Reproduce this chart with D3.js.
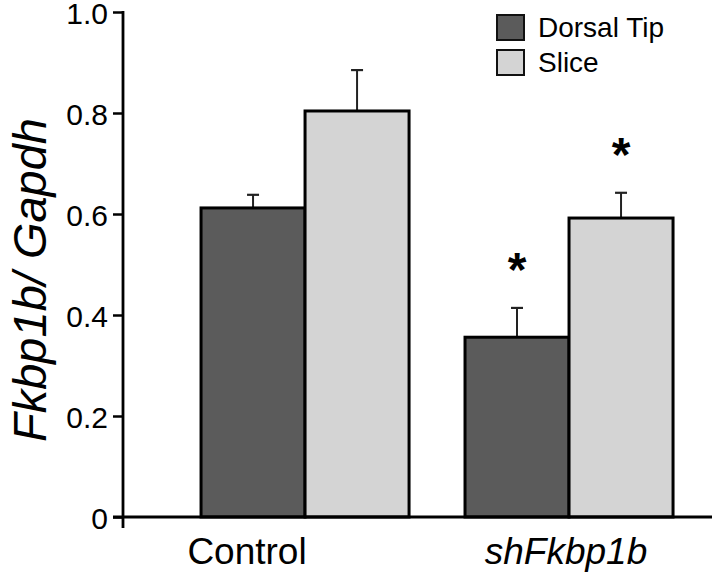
<!DOCTYPE html>
<html><head><meta charset="utf-8">
<script src="https://cdn.jsdelivr.net/npm/d3@7/dist/d3.min.js"></script>
<style>body{margin:0;background:#fff}svg{display:block;font-family:"Liberation Sans",Arial,sans-serif}</style>
</head><body>
<svg id="c" width="720" height="572"></svg>
<script>
const categories = ["Control", "shFkbp1b"];
const series = ["Dorsal Tip", "Slice"];
const dorsalTip = [0.612, 0.356];
const dorsalTipErr = [0.026, 0.058];
const slice = [0.804, 0.592];
const sliceErr = [0.081, 0.050];
const significant = [[false, false], [true, true]];
const yTicks = [0, 0.2, 0.4, 0.6, 0.8, 1.0];

const colors = {"Dorsal Tip": "#5b5b5b", "Slice": "#d4d4d4"};
const svg = d3.select("#c");
const y = d3.scaleLinear().domain([0, 1]).range([517, 12]);
const x0 = d3.scaleBand().domain(categories).range([123, 712])
  .paddingInner(0.212).paddingOuter(0.2216).align(0.667);
const x1 = d3.scaleBand().domain(series).range([0, x0.bandwidth()]).padding(0);

const rows = categories.map((c, i) => ({
  cat: c, i,
  vals: [
    {s: "Dorsal Tip", v: dorsalTip[i], e: dorsalTipErr[i], sig: significant[i][0]},
    {s: "Slice", v: slice[i], e: sliceErr[i], sig: significant[i][1]}
  ]
}));

const g = svg.selectAll("g.grp").data(rows).join("g")
  .attr("transform", d => `translate(${x0(d.cat)},0)`);
g.selectAll("g.eb").data(d => d.vals).join("g").each(function(d) {
  const cx = x1(d.s) + x1.bandwidth() / 2;
  const s = d3.select(this);
  s.append("line").attr("x1", cx).attr("x2", cx).attr("y1", y(d.v)).attr("y2", y(d.v + d.e))
    .attr("stroke", "#222").attr("stroke-width", 2);
  s.append("line").attr("x1", cx - 6).attr("x2", cx + 6).attr("y1", y(d.v + d.e)).attr("y2", y(d.v + d.e))
    .attr("stroke", "#222").attr("stroke-width", 2.2);
  if (d.sig) {
    s.append("text").attr("x", cx).attr("y", y(d.v + d.e) - 22)
      .attr("text-anchor", "middle").attr("font-size", 48).attr("font-weight", "bold")
      .attr("fill", "#000").text("*");
  }
});
g.selectAll("rect").data(d => d.vals).join("rect")
  .attr("x", d => x1(d.s)).attr("width", x1.bandwidth())
  .attr("y", d => y(d.v)).attr("height", d => y(0) - y(d.v))
  .attr("fill", d => colors[d.s]).attr("stroke", "#000").attr("stroke-width", 3);

const yAxis = d3.axisLeft(y).tickValues(yTicks).tickSize(10).tickSizeOuter(0).tickPadding(5)
  .tickFormat(d => d === 0 ? "0" : d3.format(".1f")(d));
const ya = svg.append("g").attr("transform", "translate(123,0)").call(yAxis);
ya.select(".domain").remove();
ya.selectAll(".tick line").attr("stroke", "#000").attr("stroke-width", 2.5);
ya.selectAll(".tick text").attr("font-size", 30).attr("fill", "#000").attr("dy", "0.38em")
  .attr("font-family", "Liberation Sans, Arial, sans-serif");
svg.append("line").attr("x1", 123).attr("x2", 123).attr("y1", y(1) - 1).attr("y2", 528)
  .attr("stroke", "#000").attr("stroke-width", 2.8);
svg.append("line").attr("x1", 113).attr("x2", 712).attr("y1", y(0)).attr("y2", y(0))
  .attr("stroke", "#000").attr("stroke-width", 2.8);

const labelDx = [-58, -3];
svg.selectAll("text.cat").data(categories).join("text").attr("class", "cat")
  .attr("x", (d, i) => x0(d) + x0.bandwidth() / 2 + labelDx[i]).attr("y", 564)
  .attr("text-anchor", "middle").attr("font-size", 37)
  .attr("font-style", (d, i) => i === 1 ? "italic" : "normal").text(d => d);

svg.append("text").attr("transform", "translate(46,280) rotate(-90)")
  .attr("text-anchor", "middle").attr("font-size", 47).attr("font-style", "italic")
  .text("Fkbp1b/ Gapdh");

const lg = svg.selectAll("g.lg").data(series).join("g").attr("class", "lg")
  .attr("transform", (d, i) => `translate(497,${15 + i * 35})`);
lg.append("rect").attr("width", 27).attr("height", 25).attr("fill", d => colors[d])
  .attr("stroke", "#111").attr("stroke-width", 2);
lg.append("text").attr("x", 41).attr("y", 22).attr("font-size", 28).text(d => d);
</script>
</body></html>
